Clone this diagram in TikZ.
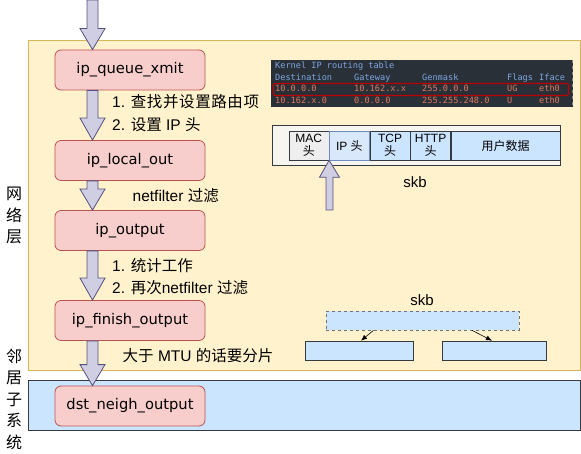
\documentclass[tikz,border=0pt]{standalone}
\usepackage{fontspec}
\setmainfont{Liberation Sans}
\newfontfamily\cjk{Noto Sans CJK SC}
\newfontfamily\fn{DejaVu Sans}
\newfontfamily\mono{DejaVu Sans Mono}
\newcommand\zh[1]{{\cjk #1}}
\newcommand\zs{\hspace{0.6pt}}
\usetikzlibrary{calc,arrows.meta}
\definecolor{yfill}{HTML}{FFF2CC}
\definecolor{ydraw}{HTML}{D6B656}
\definecolor{bfill}{HTML}{CCE5FF}
\definecolor{bdraw}{HTML}{36393D}
\definecolor{rfill}{HTML}{F8CECC}
\definecolor{rdraw}{HTML}{B85450}
\definecolor{afill}{HTML}{D0CEE2}
\definecolor{adraw}{HTML}{56517E}
\definecolor{term}{HTML}{2A3038}
\definecolor{tblue}{HTML}{7EA6E0}
\definecolor{tred}{HTML}{E07A5F}
\definecolor{cellgray}{HTML}{EEEEEE}
\definecolor{ipfill}{HTML}{DAE8FC}
\definecolor{ipdraw}{HTML}{6C8EBF}
\definecolor{outer}{HTML}{F7F5EF}
\tikzset{
  func/.style={draw=rdraw,fill=rfill,rounded corners=6pt,minimum width=150pt,minimum height=40pt,inner sep=0pt,font=\fn\fontsize{14.7}{14.7}\selectfont,line width=0.8pt},
  lbl/.style={anchor=west,inner sep=0pt,font=\fontsize{15.5}{15.5}\selectfont},
  barrow/.style={draw=adraw,fill=afill,line width=0.8pt,line join=miter},
  ttxt/.style={anchor=base west,inner sep=0pt,font=\mono\fontsize{8.6}{8.6}\selectfont},
  cell/.style={draw=bdraw,fill=bfill,minimum height=29pt,inner sep=0pt,align=center,font=\fontsize{12}{13}\selectfont,anchor=west,line width=0.6pt},
  sbox/.style={draw=bdraw,fill=bfill,line width=0.7pt,minimum height=19pt,inner sep=0pt},
  vtext/.style={inner sep=0pt,align=center,font=\cjk\fontsize{16}{21.5}\selectfont},
  skbl/.style={inner sep=0pt,font=\fontsize{15}{15}\selectfont},
}
\newcommand\blockarr[5]{% x, from, to, headlen, halfwidth of head
  \draw[barrow] let \p1=(#2), \p2=(#3) in
    (#1-5.5,\y1) -- (#1+5.5,\y1) -- (#1+5.5,\y2+#4) -- (#1+#5,\y2+#4) -- (#1,\y2)
    -- (#1-#5,\y2+#4) -- (#1-5.5,\y2+#4) -- cycle;}
\begin{document}
\begin{tikzpicture}[x=1pt,y=-1pt]
\useasboundingbox (0,0) rectangle (581,454);
% layers
\fill[yfill,draw=ydraw,line width=0.8pt] (28,40.5) rectangle (580,370);
\fill[bfill,draw=bdraw,line width=0.8pt] (28,380.5) rectangle (580,430);
% function nodes
\node[func] (q) at (130,70) {ip\_queue\_xmit};
\node[func] (lo) at (130,160.5) {ip\_local\_out};
\node[func] (o) at (130,230.5) {ip\_output};
\node[func] (f) at (130,320.5) {ip\_finish\_output};
\node[func] (d) at (130,406) {dst\_neigh\_output};
\coordinate (top) at (92.5,0);
% block arrows
\blockarr{92.5}{top}{q.north}{21}{12.5}
\blockarr{92.5}{q.south}{lo.north}{22}{12.5}
\blockarr{92.5}{lo.south}{o.north}{21}{12.5}
\blockarr{92.5}{o.south}{f.north}{22}{12.5}
\blockarr{92.5}{f.south}{d.north}{21}{12.5}
% labels
\node[lbl] (l1) at (112,102) {1. \zh{查\zs 找\zs 并\zs 设\zs 置\zs 路\zs 由\zs 项}};
\node[lbl] (l2) at (112,124.5) {2. \zh{设置} IP \zh{头}};
\node[lbl] (l3) at (132.5,195.5) {netfilter \zh{过滤}};
\node[lbl] (l4) at (112,266) {1. \zh{统计工作}};
\node[lbl] (l5) at (112,287.5) {2. \zh{再次}netfilter \zh{过滤}};
\node[lbl] (l6) at (122.5,355.5) {\zh{大于} MTU \zh{的话要分片}};
\node[vtext] (net) at (14,215.5) {网\\络\\层};
\node[vtext] (neigh) at (14,399) {邻\\居\\子\\系\\统};
% terminal
\fill[term] (271,60) rectangle (573,107);
\draw[white!40!term,dashed,line width=0.8pt] (572.5,60) -- (572.5,107);
\node[ttxt,text=tblue] (t0) at (275,69) {Kernel IP routing table};
\node[ttxt,text=tblue] (h1) at (275,80.5) {Destination};
\node[ttxt,text=tblue] (h2) at (354,80.5) {Gateway};
\node[ttxt,text=tblue] (h3) at (422,80.5) {Genmask};
\node[ttxt,text=tblue] (h4) at (507,80.5) {Flags};
\node[ttxt,text=tblue] (h5) at (539,80.5) {Iface};
\node[ttxt,text=tred] (r11) at (275,92) {10.0.0.0};
\node[ttxt,text=tred] (r12) at (354,92) {10.162.x.x};
\node[ttxt,text=tred] (r13) at (422,92) {255.0.0.0};
\node[ttxt,text=tred] (r14) at (507,92) {UG};
\node[ttxt,text=tred] (r15) at (539,92) {eth0};
\node[ttxt,text=tred] (r21) at (275,103.5) {10.162.x.0};
\node[ttxt,text=tred] (r22) at (354,103.5) {0.0.0.0};
\node[ttxt,text=tred] (r23) at (422,103.5) {255.255.248.0};
\node[ttxt,text=tred] (r24) at (507,103.5) {U};
\node[ttxt,text=tred] (r25) at (539,103.5) {eth0};
\draw[red!75!black,line width=1.2pt,rounded corners=2pt] (273.5,83.5) rectangle (568.5,95.5);
% skb structure
\draw[draw=bdraw,fill=outer,line width=0.7pt] (272,125) rectangle (560,165);
\node[cell,fill=cellgray,minimum width=40pt] (mac) at (288.5,145.5) {MAC\\\zh{头}};
\node[cell,fill=ipfill,draw=ipdraw,minimum width=40pt] (ip) at (mac.east) {IP \zh{头}};
\node[cell,minimum width=40pt] (tcp) at (ip.east) {TCP\\\zh{头}};
\node[cell,minimum width=40pt] (http) at (tcp.east) {HTTP\\\zh{头}};
\node[cell,minimum width=109pt] (data) at (http.east) {\zh{用户数据}};
\node[skbl] (skb1) at (415,182) {skb};
\coordinate (ub) at (329.5,210);
\draw[barrow] let \p1=(ub), \p2=(mac.south east) in
  (326,\y1) -- (333,\y1) -- (333,\y2-17) -- (339.5,\y2-17) -- (\x2,\y2)
  -- (319.5,\y2-17) -- (326,\y2-17) -- cycle;
% fragmentation
\node[skbl] (skb2) at (422,300) {skb};
\node[sbox,dashed,draw=gray!90!black,minimum width=193pt] (whole) at (422.5,320.5) {};
\node[sbox,minimum width=108pt] (p1) at (359,350.5) {};
\node[sbox,minimum width=104pt] (p2) at (494,350.5) {};
\draw[-{Latex[length=6pt,width=5pt]},line width=0.6pt] ($(whole.south)+(-49,0)$) -- ($(p1.north)+(2,0)$);
\draw[-{Latex[length=6pt,width=5pt]},line width=0.6pt] ($(whole.south)+(49.5,0)$) -- ($(p2.north)+(-2,0)$);
\end{tikzpicture}
\end{document}
